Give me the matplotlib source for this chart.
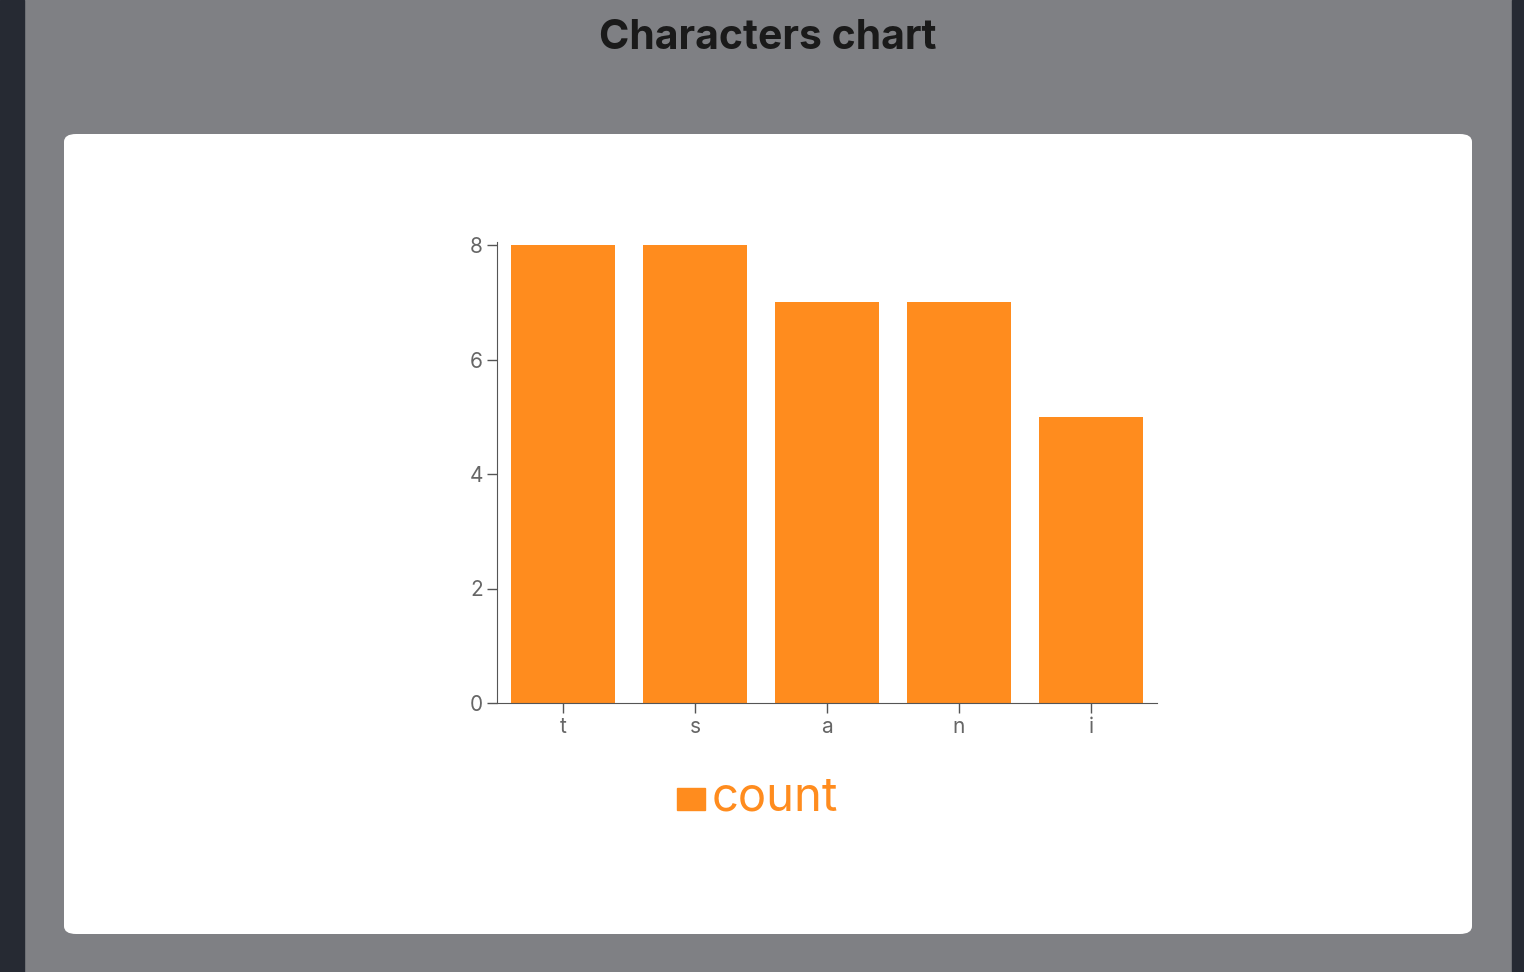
import matplotlib
matplotlib.use("Agg")
import matplotlib.pyplot as plt
from matplotlib.patches import FancyBboxPatch, Rectangle

categories = ["t", "s", "a", "n", "i"]
counts = [8, 8, 7, 7, 5]
yticks = [0, 2, 4, 6, 8]

W, H = 1524, 972
fig = plt.figure(figsize=(W/100, H/100), dpi=100)
fig.patch.set_facecolor("#7f8084")
fx = lambda x: x / W
fy = lambda y: 1 - y / H

fig.patches.append(Rectangle((0, 0), fx(24), 1, transform=fig.transFigure, color="#262a33", zorder=0))
fig.patches.append(Rectangle((fx(1512), 0), fx(12), 1, transform=fig.transFigure, color="#262a33", zorder=0))
fig.patches.append(FancyBboxPatch((fx(64), fy(934)), fx(1472-64), (934-134)/H,
                                  boxstyle="round,pad=0,rounding_size=0.008",
                                  transform=fig.transFigure, facecolor="white", edgecolor="none", zorder=0))
fig.text(fx(768), fy(38), "Characters chart", ha="center", va="center",
         fontsize=29.5, fontweight="bold", color="#1a1a1a", family="Inter")

orange = "#ff8c1e"
ax = fig.add_axes([fx(497), fy(703), fx(1157-497), (703-242)/H], zorder=2)
ax.set_facecolor("none")
ax.bar(range(len(categories)), counts, width=104/132, color=orange)
ax.set_xlim(-0.5, len(categories)-0.5)
ax.set_ylim(0, 8 * (703-242)/(703-245))
ax.set_xticks(range(len(categories)), categories)
ax.set_yticks(yticks)
for s in ["top", "right"]:
    ax.spines[s].set_visible(False)
for s in ["left", "bottom"]:
    ax.spines[s].set_color("#555555")
ax.tick_params(colors="#555555", labelsize=15, length=7, width=1, pad=3)
for lbl in ax.get_xticklabels() + ax.get_yticklabels():
    lbl.set_color("#666666")
    lbl.set_family("Inter")

fig.patches.append(Rectangle((fx(677), fy(810)), fx(28), 22/H, transform=fig.transFigure, color=orange, zorder=3))
fig.text(fx(712), fy(798), "count", ha="left", va="center", fontsize=34, color=orange, family="Inter", zorder=3)

fig.savefig("out.png", dpi=100, facecolor=fig.get_facecolor())
